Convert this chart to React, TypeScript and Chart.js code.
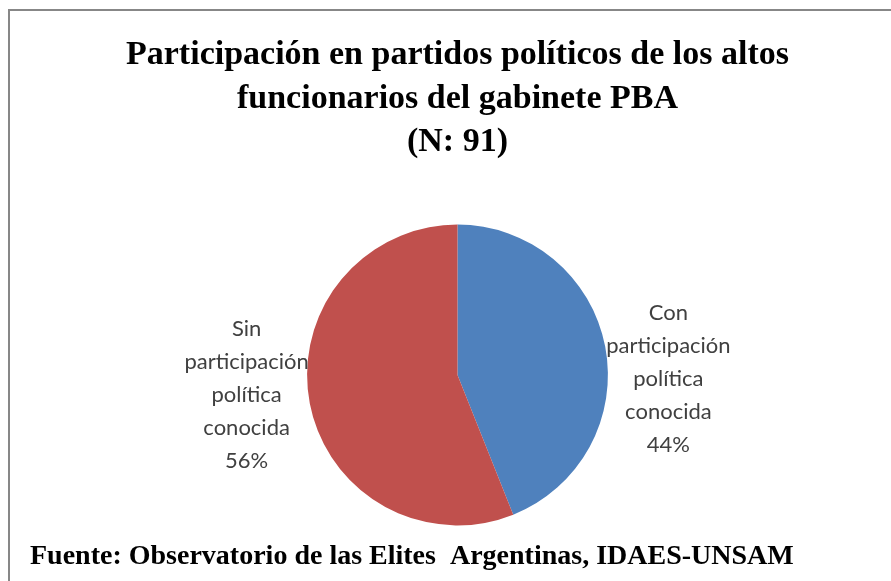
import React, { useEffect, useRef } from "react";
import { Chart, registerables } from "chart.js";

Chart.register(...registerables);

const titleLines = [
  "Participación en partidos políticos de los altos",
  "funcionarios del gabinete PBA",
  "(N: 91)",
];
const footerText = "Fuente: Observatorio de las Elites  Argentinas, IDAES-UNSAM";
const categories = [
  ["Con", "participación", "política", "conocida"],
  ["Sin", "participación", "política", "conocida"],
];
const values = [40, 51];
const colors = ["#4F81BD", "#C0504D"];

const labelPlugin = {
  id: "outsideLabels",
  afterDatasetsDraw(chart: any) {
    const ctx = chart.ctx;
    const meta = chart.getDatasetMeta(0);
    const total = values.reduce((a, b) => a + b, 0);
    ctx.save();
    ctx.font = '22px Lato, "Open Sans", sans-serif';
    ctx.fillStyle = "#404040";
    ctx.textAlign = "center";
    ctx.textBaseline = "middle";
    const lh = 33;
    meta.data.forEach((arc: any, i: number) => {
      const { x, y, startAngle, endAngle, outerRadius } = arc.getProps(
        ["x", "y", "startAngle", "endAngle", "outerRadius"],
        true
      );
      const mid = (startAngle + endAngle) / 2;
      const cx = Math.cos(mid);
      const sy = Math.sin(mid);
      const lines = [...categories[i], Math.round((values[i] / total) * 100) + "%"];
      const maxW = Math.max(...lines.map((l) => ctx.measureText(l).width));
      const px = x + cx * (outerRadius + 1);
      const bx = cx >= 0 ? px + maxW / 2 : px - maxW / 2;
      const by = y + 12 + sy * outerRadius * 0.27;
      const top = by - ((lines.length - 1) * lh) / 2;
      lines.forEach((l, k) => ctx.fillText(l, bx, top + k * lh));
    });
    ctx.restore();
  },
};

export default function App() {
  const ref = useRef<HTMLCanvasElement>(null);
  useEffect(() => {
    if (!ref.current) return;
    const chart = new Chart(ref.current, {
      type: "pie",
      data: {
        labels: categories.map((c) => c.join(" ")),
        datasets: [
          {
            data: values,
            backgroundColor: colors,
            borderWidth: 0,
          },
        ],
      },
      options: {
        animation: false,
        responsive: true,
        maintainAspectRatio: false,
        layout: { padding: { left: 20, right: 6, top: 0, bottom: 0 } },
        plugins: {
          legend: { display: false },
          tooltip: { enabled: false },
          title: {
            display: true,
            text: titleLines,
            color: "#000000",
            font: { family: '"Liberation Serif", "Times New Roman", serif', size: 34, weight: "bold", lineHeight: 1.29 },
            padding: { top: 22, bottom: 60 },
          },
          subtitle: {
            display: true,
            position: "bottom",
            align: "start",
            text: footerText,
            color: "#000000",
            font: { family: '"Liberation Serif", "Times New Roman", serif', size: 28, weight: "bold", lineHeight: 1.2 },
            padding: { top: 15, bottom: 7 },
          },
        },
      },
      plugins: [labelPlugin],
    });
    return () => chart.destroy();
  }, []);
  return (
    <div
      style={{
        position: "fixed",
        left: 8,
        top: 9,
        right: 0,
        bottom: 0,
        borderTop: "2px solid #878787",
        borderLeft: "2px solid #878787",
        background: "#fff",
      }}
    >
      <div style={{ position: "relative", width: "100%", height: "100%" }}>
        <canvas ref={ref} />
      </div>
    </div>
  );
}
